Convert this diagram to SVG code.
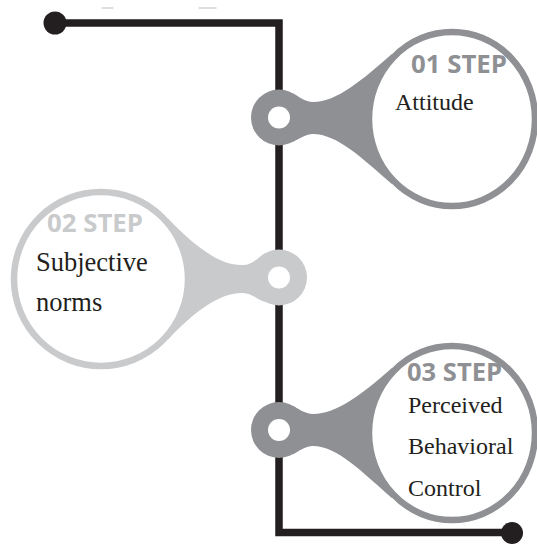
<svg xmlns="http://www.w3.org/2000/svg" width="537" height="547" viewBox="0 0 537 547">
  <style>
    .dark { fill: #8f9093; }
    .light { fill: #c9cacc; }
    .ringD { fill: #ffffff; stroke: #8f9093; stroke-width: 6.5; }
    .ringL { fill: #ffffff; stroke: #c9cacc; stroke-width: 6.5; }
    .hole { fill: #ffffff; }
    .step { font-family: "Open Sans", "DejaVu Sans", sans-serif; font-weight: bold; font-size: 25.5px; }
    .stepD { fill: #8f9093; }
    .stepL { fill: #c9cacc; }
    .label { font-family: "Liberation Serif", "Times New Roman", serif; fill: #231f20; }
    .line { fill: none; stroke: #231f20; stroke-width: 7.5; stroke-linejoin: miter; stroke-linecap: butt; }
    .dot { fill: #231f20; }
  </style>

  <!-- faint marks at top -->
  <g id="marks" stroke="#d4d4d4" stroke-width="1.5" stroke-linecap="round">
    <line x1="102" y1="8" x2="113" y2="8"/>
    <line x1="199" y1="8" x2="216" y2="8"/>
  </g>

  <g id="connectors">
    <path class="line" d="M 55,23 H 279 V 532.5 H 512"/>
    <circle class="dot" cx="55" cy="23" r="11.5"/>
    <circle class="dot" cx="512" cy="533" r="11"/>
  </g>

  <g id="node-1">
    <path class="dark" d="M 293,93.3 C 298,96.2 305,102 313,102 C 337,102 362,80 392,54 L 430,119 L 392,184 C 362,158 337,134 313,134 C 305,134 298,139.8 293,141.7 Z"/>
    <circle class="dark" cx="279" cy="117.5" r="28"/>
    <circle class="hole" cx="279" cy="117.5" r="11"/>
    <ellipse class="ringD" cx="452" cy="119" rx="83" ry="87"/>
    <text class="step stepD" x="411" y="73" textLength="96" lengthAdjust="spacingAndGlyphs">01 STEP</text>
    <text class="label" x="395" y="109.5" font-size="24">Attitude</text>
  </g>

  <g id="node-2">
    <path class="light" d="M 265,253.3 C 259,257 252,265 243,265 C 220,266 194,246 168,218.6 L 130,279 L 168,339.4 C 194,312 220,292 243,293 C 252,293 259,301 265,301.7 Z"/>
    <circle class="light" cx="279" cy="277.5" r="28"/>
    <circle class="hole" cx="279" cy="277.5" r="11"/>
    <circle class="ringL" cx="101" cy="279" r="87"/>
    <text class="step stepL" x="47" y="231.7" textLength="96" lengthAdjust="spacingAndGlyphs">02 STEP</text>
    <text class="label" x="36" y="270.7" font-size="26.5">Subjective</text>
    <text class="label" x="36" y="310.7" font-size="26.5">norms</text>
  </g>

  <g id="node-3">
    <path class="dark" d="M 293,405.8 C 298,408.7 305,414 313,414 C 337,414 362,394 392,368 L 430,433 L 392,498 C 362,472 337,446 313,446 C 305,446 298,451.8 293,454.2 Z"/>
    <circle class="dark" cx="279" cy="430" r="28"/>
    <circle class="hole" cx="279" cy="430" r="11"/>
    <ellipse class="ringD" cx="452" cy="433" rx="83" ry="87"/>
    <text class="step stepD" x="407" y="380.7" textLength="95" lengthAdjust="spacingAndGlyphs">03 STEP</text>
    <text class="label" x="408" y="412.7" font-size="24">Perceived</text>
    <text class="label" x="408" y="454" font-size="24">Behavioral</text>
    <text class="label" x="408" y="495.7" font-size="24">Control</text>
  </g>
</svg>
